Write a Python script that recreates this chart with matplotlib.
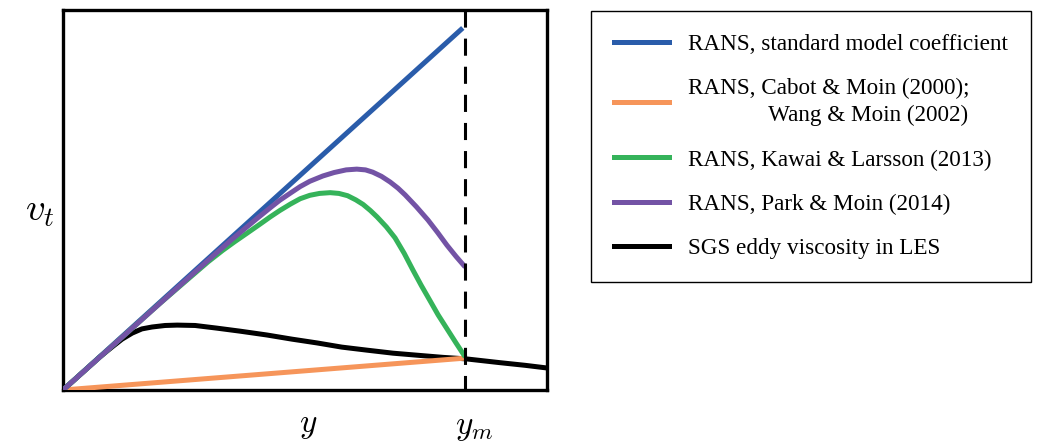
import numpy as np
import matplotlib.pyplot as plt
from matplotlib.lines import Line2D

plt.rcParams['mathtext.fontset'] = 'cm'

# values (x: 0 at wall, 1 at right edge; y: 0..1 of axis height)
y_m = 0.831

std_x = [0.0, 0.826]
std_v = [0.0, 0.954]

cabot_x = [0.0, 0.831]
cabot_v = [0.0, 0.084]

kawai_x = [0.0, 0.10, 0.20, 0.30, 0.33, 0.355, 0.38, 0.407, 0.428, 0.448, 0.47,
           0.49, 0.51, 0.53, 0.552, 0.57, 0.588, 0.605, 0.62, 0.635, 0.649,
           0.668, 0.686, 0.705, 0.723, 0.740, 0.758, 0.775, 0.793, 0.812, 0.831]
kawai_v = [0.0, 0.114, 0.228, 0.338, 0.368, 0.391, 0.413, 0.437, 0.456, 0.473, 0.490,
           0.504, 0.513, 0.518, 0.520, 0.518, 0.512, 0.501, 0.489, 0.473, 0.456,
           0.430, 0.401, 0.360, 0.316, 0.276, 0.236, 0.198, 0.162, 0.124, 0.087]

park_x = [0.0, 0.10, 0.20, 0.30, 0.35, 0.40, 0.43, 0.448, 0.47, 0.49, 0.51,
          0.537, 0.56, 0.585, 0.607, 0.625, 0.640, 0.658, 0.676, 0.692, 0.707,
          0.730, 0.754, 0.774, 0.793, 0.812, 0.831]
park_v = [0.0, 0.114, 0.228, 0.342, 0.398, 0.451, 0.482, 0.500, 0.519, 0.536, 0.550,
          0.564, 0.573, 0.580, 0.582, 0.580, 0.574, 0.563, 0.548, 0.532, 0.514,
          0.483, 0.448, 0.415, 0.382, 0.352, 0.324]

les_x = [0.0, 0.035, 0.076, 0.101, 0.122, 0.143, 0.163, 0.184, 0.211, 0.236,
         0.273, 0.318, 0.366, 0.421, 0.473, 0.525, 0.576, 0.628, 0.682, 0.738,
         0.785, 0.833, 0.903, 0.955, 1.0]
les_v = [0.0, 0.040, 0.087, 0.113, 0.134, 0.150, 0.161, 0.166, 0.170, 0.171,
         0.170, 0.163, 0.155, 0.145, 0.134, 0.124, 0.113, 0.105, 0.097, 0.091,
         0.086, 0.082, 0.072, 0.065, 0.058]

labels = ['RANS, standard model coefficient',
          'RANS, Cabot & Moin (2000);\n              Wang & Moin (2002)',
          'RANS, Kawai & Larsson (2013)',
          'RANS, Park & Moin (2014)',
          'SGS eddy viscosity in LES']
colors = ['#2a5caa', '#f6955a', '#35b35a', '#7353a5', 'black']

fig = plt.figure(figsize=(10.44, 4.48), dpi=100)
ax = fig.add_axes([63/1044, 1 - 390/448, 484/1044, 379.5/448])
ax.set_xlim(0, 1)
ax.set_ylim(0, 1)
ax.set_xticks([])
ax.set_yticks([])
for s in ax.spines.values():
    s.set_linewidth(2.4)

lw = 3.6
kw = dict(lw=lw, solid_capstyle='butt', solid_joinstyle='round')
ax.plot(les_x, les_v, color=colors[4], zorder=2, **kw)
ax.plot(cabot_x, cabot_v, color=colors[1], zorder=3, **kw)
ax.plot(std_x, std_v, color=colors[0], zorder=4, **kw)
ax.plot(kawai_x, kawai_v, color=colors[2], zorder=5, **kw)
ax.plot(park_x, park_v, color=colors[3], zorder=6, **kw)
ax.plot([y_m, y_m], [1, 0], color='black', lw=2.2, dashes=(5.6, 3.6), zorder=7)

fig.text(40/1044, 1 - 210/448, r'$v_t$', fontsize=28, ha='center', va='center')
fig.text(308/1044, 1 - 424/448, r'$y$', fontsize=24, ha='center', va='center')
fig.text(474/1044, 1 - 426/448, r'$y_m$', fontsize=24, ha='center', va='center')

handles = [Line2D([], [], color=c, lw=lw) for c in colors]
leg = fig.legend(handles, labels, loc='upper left',
                 bbox_to_anchor=(591/1044, 1 - 11/448), borderaxespad=0,
                 prop={'family': 'Liberation Serif', 'size': 16.7},
                 frameon=True, fancybox=False, framealpha=1,
                 handlelength=2.4, handletextpad=0.8, labelspacing=1.0,
                 borderpad=0.98)
leg.get_texts()[1].set_linespacing(1.35)
leg.get_frame().set_edgecolor('black')
leg.get_frame().set_linewidth(1.0)

fig.savefig('out.png', dpi=100)
